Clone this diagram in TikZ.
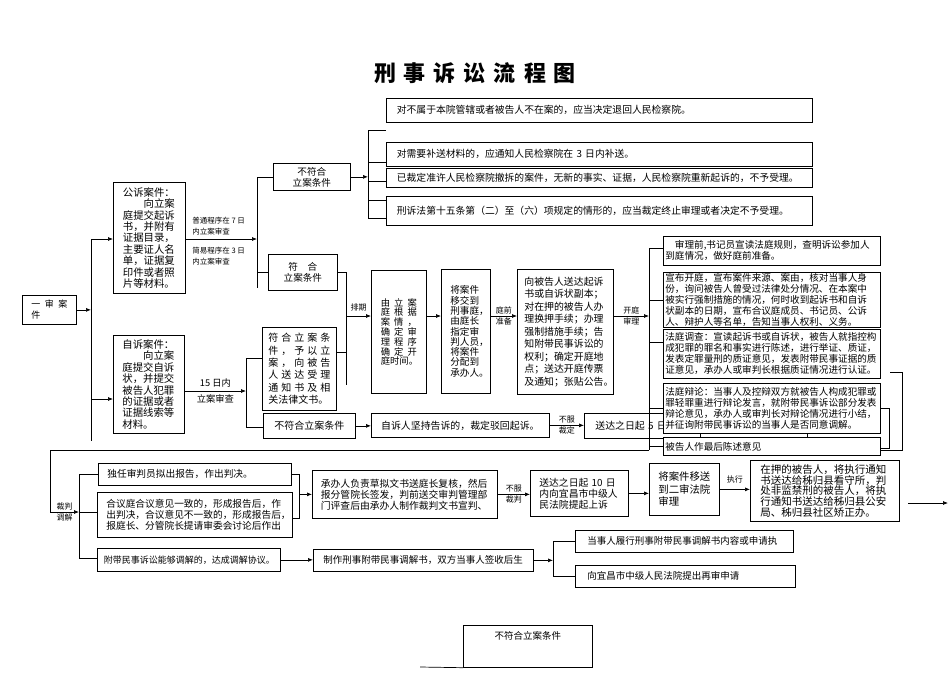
\documentclass[tikz,border=0pt]{standalone}
\usepackage{fontspec}
\setmainfont{Noto Sans CJK SC}
\usetikzlibrary{arrows.meta}
\tikzset{
  box/.style={draw, fill=white, anchor=north west, inner xsep=2pt, inner ysep=0.5pt, align=left},
  tag/.style={font=\fontsize{8}{10}\selectfont, inner sep=1.5pt},
  arr/.style={-{Latex[length=5pt,width=4pt]}}
}
\begin{document}
\begin{tikzpicture}[x=1pt, y=-1pt, line width=0.7pt]
\useasboundingbox (0,0) rectangle (950,672);

\node[font=\fontsize{22}{24}\selectfont\bfseries] (title) at (475,73) {刑\hspace{8pt}事\hspace{8pt}诉\hspace{8pt}讼\hspace{8pt}流\hspace{8pt}程\hspace{8pt}图};

% filing
\node[box, minimum width=54pt, minimum height=29pt, text width=36pt, font=\fontsize{9}{11}\selectfont] (yishen) at (22,295) {一\hfill 审\hfill 案\\件};
\node[box, minimum width=72pt, minimum height=111pt, text width=53pt, font=\fontsize{10.4}{11.4}\selectfont] (gongsu) at (113,182) {公诉案件：\\\hspace*{2em}向立案\\庭提交起诉\\书，并附有\\证据目录，\\主要证人名\\单，证据复\\印件或者照\\片等材料。};
\node[box, minimum width=71pt, minimum height=98pt, text width=53pt, font=\fontsize{10.4}{11.4}\selectfont] (zisu) at (113,335) {自诉案件：\\\hspace*{2em}向立案\\庭提交自诉\\状，并提交\\被告人犯罪\\的证据或者\\证据线索等\\材料。};
\node[font=\fontsize{7.5}{11}\selectfont, anchor=west, align=left, inner sep=0pt] (putong) at (192,226) {普通程序在 7 日\\内立案审查};
\node[font=\fontsize{7.5}{11}\selectfont, anchor=west, align=left, inner sep=0pt] (jianyi) at (192,256) {简易程序在 3 日\\内立案审查};

\node[box, minimum width=77pt, minimum height=27pt, align=center, font=\fontsize{9.6}{11}\selectfont] (buhe1) at (273,163) {不符合\\立案条件};
\node[box, minimum width=69pt, minimum height=36pt, align=center, font=\fontsize{9.6}{11.5}\selectfont] (fuhe1) at (268,254) {符\quad 合\\立案条件};

\node[box, minimum width=426pt, minimum height=24pt, text width=405pt, font=\fontsize{9.8}{11}\selectfont] (A1) at (386,98) {对不属于本院管辖或者被告人不在案的，应当决定退回人民检察院。};
\node[box, minimum width=426pt, minimum height=24pt, text width=405pt, font=\fontsize{9.8}{11}\selectfont] (A2) at (386,142) {对需要补送材料的，应通知人民检察院在 3 日内补送。};
\node[box, minimum width=426pt, minimum height=19pt, text width=405pt, font=\fontsize{9.8}{11}\selectfont] (A3) at (386,168) {已裁定准许人民检察院撤拆的案件，无新的事实、证据，人民检察院重新起诉的，不予受理。};
\node[box, minimum width=426pt, minimum height=29pt, text width=405pt, font=\fontsize{9.8}{11}\selectfont] (A4) at (386,196) {刑诉法第十五条第（二）至（六）项规定的情形的，应当裁定终止审理或者决定不予受理。};

\node[box, minimum width=74pt, minimum height=83pt, text width=62pt, font=\fontsize{10}{12.3}\selectfont] (fuhe2) at (262,327) {符\hfill 合\hfill 立\hfill 案\hfill 条\\件\hfill ，\hfill 予\hfill 以\hfill 立\\案\hfill ，\hfill 向\hfill 被\hfill 告\\人\hfill 送\hfill 达\hfill 受\hfill 理\\通\hfill 知\hfill 书\hfill 及\hfill 相\\关法律文书。};
\node[box, minimum width=92pt, minimum height=25pt, align=center, font=\fontsize{10}{11}\selectfont] (buhe2) at (263,413) {不符合立案条件};
\node[box, minimum width=178pt, minimum height=24pt, align=center, font=\fontsize{9.9}{11}\selectfont] (bohui) at (371,413) {自诉人坚持告诉的，裁定驳回起诉。};
\node[box, minimum width=116pt, minimum height=25pt, text width=94pt, font=\fontsize{9.9}{11}\selectfont] (songda5) at (584,413) {送达之日起 5 日};

% preparation
\node[box, minimum width=55pt, minimum height=123pt, text width=36pt, font=\fontsize{9.3}{9.8}\selectfont] (youli) at (371,270) {由\hfill 立\hfill 案\\庭\hfill 根\hfill 据\\案\hfill 情\hfill ，\\确\hfill 定\hfill 审\\理\hfill 程\hfill 序\\确\hfill 定\hfill 开\\庭时间。};
\node[box, minimum width=49pt, minimum height=124pt, text width=31pt, font=\fontsize{9.6}{10.3}\selectfont] (jiangan) at (441,269) {将案件\\移交到\\刑事庭，\\由庭长\\指定审\\判人员，\\将案件\\分配到\\承办人。};
\node[box, minimum width=96pt, minimum height=125pt, text width=82pt, font=\fontsize{9.9}{12.5}\selectfont] (xiangbei) at (517,269) {向被告人送达起诉\\书或自诉状副本；\\对在押的被告人办\\理换押手续；办理\\强制措施手续；告\\知附带民事诉讼的\\权利；确定开庭地\\点；送达开庭传票\\及通知；张贴公告。};

\coordinate (b1) at (91,239); \coordinate (b1e) at (91,441); \coordinate (zin) at (91,399);
\coordinate (b2) at (257,177); \coordinate (b2e) at (257,288);
\coordinate (b3) at (368,130); \coordinate (b3e) at (368,218);
\coordinate (b4) at (346,271); \coordinate (b4e) at (346,385);
\coordinate (row) at (0,316);
\coordinate (b5) at (649,248); \coordinate (b5e) at (649,450);
\coordinate (b6) at (246,358); \coordinate (b6e) at (246,427);
\coordinate (back) at (50,450);
\coordinate (b7) at (79,474); \coordinate (b7e) at (79,558); \coordinate (b7in) at (79,512);
\coordinate (br) at (299,474);
\coordinate (b8) at (553,541); \coordinate (b8e) at (553,576);
\coordinate (rb0) at (890,372); \coordinate (rb1) at (902,372); \coordinate (rb2) at (889,407);
\coordinate (out1) at (908,503); \coordinate (out2) at (948,503);
\coordinate (cut) at (420,667);

\draw[arr] (yishen.east) -- (yishen.east -| b1);
\draw (b1) -- (b1e);
\draw[arr] (b1) -- (b1 -| gongsu.west);
\draw[arr] (zin) -- (zin -| zisu.west);
\draw[arr] (gongsu.east |- b1) -- (b1 -| b2);
\draw (b2) -- (b2e);
\draw (b2) -- (b2 -| buhe1.west);
\draw (b2 |- fuhe1.west) -- (fuhe1.west);
\draw[arr] (buhe1.east) -- (buhe1.east -| b3);
\draw (b3) -- (b3e);
\foreach \y in {130,162,181,200,218}
  \draw (b3 |- 0,\y) -- (A1.west |- 0,\y);

\draw (fuhe1.east) -- (fuhe1.east -| b4) -- (b4e);
\draw (fuhe2.east |- 0,352) -- (b4 |- 0,352);
\draw[arr] (b4 |- row) -- (youli.west |- row) node[midway, above=3pt, tag] {排期};

\draw[arr] (zisu.east |- 0,391) -- (b6 |- 0,391) node[midway, above, font=\fontsize{9.3}{10}\selectfont] {15 日内} node[midway, below, font=\fontsize{9.3}{10}\selectfont] {立案审查};
\draw (b6) -- (b6e);
\draw (b6) -- (b6 -| fuhe2.west);
\draw (b6e) -- (b6e -| buhe2.west);
\draw[arr] (buhe2.east) -- (buhe2.east -| bohui.west);
\draw[arr] (bohui.east) -- (bohui.east -| songda5.west) node[midway, above, tag] {不服} node[midway, below, tag] {裁定};

\draw[arr] (youli.east |- row) -- (jiangan.west |- row);
\draw[arr] (jiangan.east |- row) -- (xiangbei.west |- row) node[midway, above, tag] {庭前} node[midway, below, tag] {准备};
\draw[arr] (xiangbei.east |- row) -- (b5 |- row) node[midway, above, tag] {开庭} node[midway, below, tag] {审理};

% trial
\draw (b5) -- (b5e);
\node[box, minimum width=217pt, minimum height=29pt, text width=213pt, font=\fontsize{9.6}{11}\selectfont] (shenli) at (663,236) {\hspace*{1em}审理前,书记员宣读法庭规则，查明诉讼参加人\\到庭情况，做好庭前准备。};
\node[box, minimum width=217pt, minimum height=55pt, text width=213pt, font=\fontsize{9.6}{11}\selectfont] (xuanbu) at (663,272) {宣布开庭，宣布案件来源、案由，核对当事人身\\份，询问被告人曾受过法律处分情况、在本案中\\被实行强制措施的情况，何时收到起诉书和自诉\\状副本的日期，宣布合议庭成员、书记员、公诉\\人、辩护人等名单，告知当事人权利、义务。};
\node[box, minimum width=217pt, minimum height=49pt, text width=213pt, font=\fontsize{9.6}{11}\selectfont] (diaocha) at (663,329) {法庭调查：宣读起诉书或自诉状，被告人就指控构\\成犯罪的罪名和事实进行陈述，进行举证、质证，\\发表定罪量刑的质证意见，发表附带民事证据的质\\证意见，承办人或审判长根据质证情况进行认证。};
\node[box, minimum width=217pt, minimum height=50pt, text width=213pt, font=\fontsize{9.6}{11}\selectfont] (bianlun) at (663,383) {法庭辩论：当事人及控辩双方就被告人构成犯罪或\\罪轻罪重进行辩论发言，就附带民事诉讼部分发表\\辩论意见，承办人或审判长对辩论情况进行小结，\\并征询附带民事诉讼的当事人是否同意调解。};
\node[box, minimum width=217pt, minimum height=18pt, text width=213pt, font=\fontsize{9.6}{11}\selectfont] (beigao) at (663,437) {被告人作最后陈述意见};
\draw (b5) -- (b5 -| shenli.west);
\draw (b5 |- xuanbu.west) -- (xuanbu.west);
\draw (b5 |- 0,342) -- (diaocha.west |- 0,342);
\draw (b5 |- bianlun.west) -- (bianlun.west);
\draw (b5 |- beigao.west) -- (beigao.west);
\draw (bianlun.south -| 807,0) -- (beigao.north -| 807,0);
\draw (rb0) -- (rb1) -- (rb1 |- 0,450) -- (beigao.east |- 0,450);
\draw (bianlun.east) -- (bianlun.east -| rb2) -- (rb2 |- 0,448) -- (beigao.east |- 0,448);

% judgment
\node[box, minimum width=193pt, minimum height=22pt, text width=175pt, font=\fontsize{9.7}{11}\selectfont] (duren) at (98,463) {独任审判员拟出报告，作出判决。};
\node[box, minimum width=195pt, minimum height=45pt, text width=177pt, font=\fontsize{9.7}{11}\selectfont] (heyi) at (97,492) {合议庭合议意见一致的，形成报告后，作\\出判决，合议意见不一致的，形成报告后，\\报庭长、分管院长提请审委会讨论后作出};
\node[box, minimum width=183pt, minimum height=23pt, text width=170pt, font=\fontsize{9}{11}\selectfont] (fudai) at (97,548) {附带民事诉讼能够调解的，达成调解协议。};
\node[box, minimum width=185pt, minimum height=48pt, text width=168pt, font=\fontsize{9.8}{11}\selectfont] (chengban) at (312,470) {承办人负责草拟文书送庭长复核，然后\\报分管院长签发，判前送交审判管理部\\门评查后由承办人制作裁判文书宣判、};
\node[box, minimum width=98pt, minimum height=46pt, text width=80pt, font=\fontsize{9.8}{11}\selectfont] (songda10) at (530,470) {送达之日起 10 日\\内向宜昌市中级人\\民法院提起上诉};
\node[box, minimum width=70pt, minimum height=52pt, text width=52pt, font=\fontsize{10.4}{12.5}\selectfont] (yisong) at (649,463) {将案件移送\\到二审法院\\审理};
\node[box, minimum width=149pt, minimum height=61pt, text width=129pt, font=\fontsize{10.5}{10.8}\selectfont] (zaiya) at (750,460) {在押的被告人，将执行通知\\书送达给秭归县看守所，判\\处非监禁刑的被告人，将执\\行通知书送达给秭归县公安\\局、秭归县社区矫正办。};
\node[box, minimum width=220pt, minimum height=22pt, text width=200pt, font=\fontsize{9.5}{11}\selectfont] (zhizuo) at (313,549) {制作刑事附带民事调解书，双方当事人签收后生};
\node[box, minimum width=218pt, minimum height=22pt, text width=194pt, font=\fontsize{9.5}{11}\selectfont] (dangshi) at (575,530) {当事人履行刑事附带民事调解书内容或申请执};
\node[box, minimum width=220pt, minimum height=22pt, text width=196pt, font=\fontsize{9.5}{11}\selectfont] (xiang) at (575,565) {向宜昌市中级人民法院提出再审申请};
\node[box, minimum width=129pt, minimum height=42pt] (buhe3) at (463,625) {};
\node[font=\fontsize{9.5}{11}\selectfont, below=3pt] (buhe3t) at (buhe3.north) {不符合立案条件};

\draw[arr] (b5e) -- (back) -- (back |- b7in) -- (b7in) node[midway, above, tag] {裁判} node[midway, below, tag] {调解};
\draw (b7in) -- (b7in -| heyi.west);
\draw (b7) -- (b7e);
\draw (b7) -- (b7 -| duren.west);
\draw (b7e) -- (b7e -| fudai.west);
\draw (duren.east) -- (duren.east -| br) -- (br |- 0,518) -- (heyi.east |- 0,518);
\draw[arr] (br |- chengban.west) -- (chengban.west);
\draw[arr] (chengban.east) -- (chengban.east -| songda10.west) node[midway, above, tag] {不服} node[midway, below, tag] {裁判};
\draw[arr] (songda10.east) -- (songda10.east -| yisong.west);
\draw[arr] (yisong.east) -- (yisong.east -| zaiya.west) node[midway, above=4pt, tag] {执行};
\draw[arr] (out1) -- (out2);
\draw[arr] (fudai.east) -- (fudai.east -| zhizuo.west);
\draw[arr] (zhizuo.east) -- (zhizuo.east -| b8);
\draw (b8) -- (b8e);
\draw (b8) -- (b8 -| dangshi.west);
\draw (b8e) -- (b8e -| xiang.west);
\draw (cut) -- (buhe3.south west);
\end{tikzpicture}
\end{document}
